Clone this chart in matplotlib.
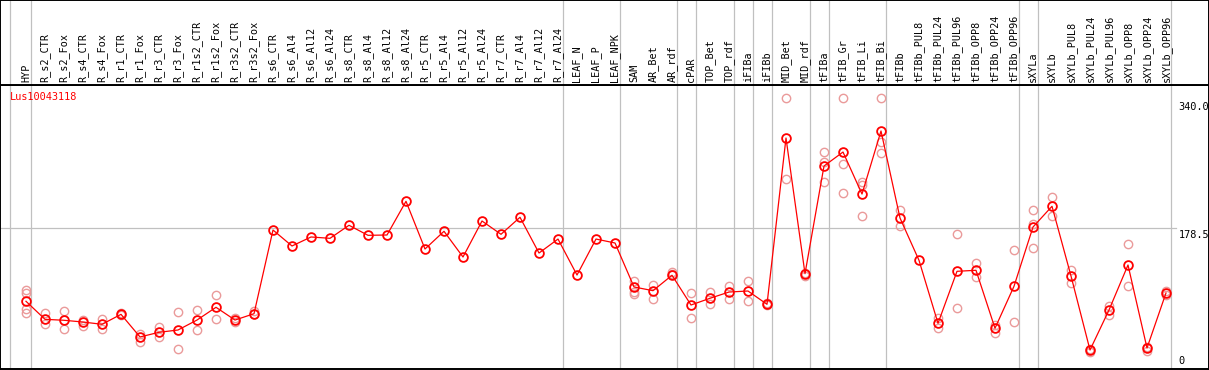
import matplotlib
matplotlib.use("Agg")
import matplotlib.pyplot as plt
from matplotlib.transforms import blended_transform_factory

labels = ["HYP", "R_s2_CTR", "R_s2_Fox", "R_s4_CTR", "R_s4_Fox", "R_r1_CTR", "R_r1_Fox",
          "R_r3_CTR", "R_r3_Fox", "R_r1s2_CTR", "R_r1s2_Fox", "R_r3s2_CTR", "R_r3s2_Fox",
          "R_s6_CTR", "R_s6_Al4", "R_s6_Al12", "R_s6_Al24", "R_s8_CTR", "R_s8_Al4",
          "R_s8_Al12", "R_s8_Al24", "R_r5_CTR", "R_r5_Al4", "R_r5_Al12", "R_r5_Al24",
          "R_r7_CTR", "R_r7_Al4", "R_r7_Al12", "R_r7_Al24", "LEAF_N", "LEAF_P", "LEAF_NPK",
          "SAM", "AR_Bet", "AR_rdf", "cPAR", "TOP_Bet", "TOP_rdf", "iFIBa", "iFIBb",
          "MID_Bet", "MID_rdf", "tFIBa", "tFIB_Gr", "tFIB_Li", "tFIB_Bi", "tFIBb",
          "tFIBb_PUL8", "tFIBb_PUL24", "tFIBb_PUL96", "tFIBb_OPP8", "tFIBb_OPP24",
          "tFIBb_OPP96", "sXYLa", "sXYLb", "sXYLb_PUL8", "sXYLb_PUL24", "sXYLb_PUL96",
          "sXYLb_OPP8", "sXYLb_OPP24", "sXYLb_OPP96"]

means = [85.6, 62.8, 61.6, 59.4, 56.5, 69.1, 40.5, 46.4, 49.3, 61.9, 78.0, 61.9, 69.9,
         175.7, 155.5, 166.9, 165.2, 181.7, 169.0, 169.4, 212.0, 151.7, 174.1, 141.6,
         187.1, 170.3, 191.8, 146.6, 164.3, 118.8, 164.3, 159.3, 103.7, 99.0, 118.5,
         80.9, 89.4, 97.3, 98.6, 81.8, 292.0, 120.5, 256.6, 274.3, 221.2, 300.9, 190.9,
         137.4, 57.8, 123.5, 124.8, 51.5, 104.6, 179.5, 205.7, 117.6, 24.0, 74.6, 131.5,
         26.5, 96.1]

replicates = [
    [99.9, 95.7, 75.5, 71.2], [70.4, 56.5], [73.3, 50.6], [61.9, 54.4], [62.8, 50.2],
    [71.2, 68.3], [43.9, 34.5], [52.7, 40.1], [71.7, 25.3], [74.6, 49.3], [93.6, 62.8],
    [64.9, 59.0], [73.3, 69.1],
    [], [], [], [], [], [], [], [], [], [], [], [], [], [], [], [], [], [], [],
    [110.9, 97.7, 94.4], [106.2, 88.9], [123.0, 119.7], [95.7, 64.1], [97.3, 82.6],
    [104.9, 88.9], [111.3, 86.0], [83.1, 80.9], [342.2, 240.2], [121.7, 117.6],
    [274.0, 261.3, 236.0], [342.2, 259.2, 222.1], [236.8, 232.6, 193.4],
    [342.2, 287.4, 272.7], [201.0, 180.4], [],
    [64.1, 52.2], [170.3, 77.5], [134.4, 115.9], [55.6, 45.9], [150.1, 59.0],
    [200.6, 183.7, 152.6], [217.4, 193.0], [124.8, 108.3], [24.9, 21.1], [79.6, 67.9],
    [158.0, 104.6], [27.8, 23.1], [98.6, 93.9]]

separators_after = [-1.07, 0, 28, 31, 34, 35, 37, 38, 39, 41, 42, 45, 52, 53, 60]
ytick_vals = [340.0, 178.5, 0]
ytick_text = ["340.0", "178.5", "0"]
gene = "Lus10043118"

W, H = 1209, 370
fig = plt.figure(figsize=(W / 100, H / 100), dpi=100)

x0_px, step_px = 26.0, 19.0
xlim = (-x0_px / step_px, (W - x0_px) / step_px)
top_px, bot_px = 85.0, 369.0
scale = 0.791
ymax = (bot_px - top_px) / scale

ax = fig.add_axes([0, (H - bot_px) / H, 1, (bot_px - top_px) / H])
hax = fig.add_axes([0, (H - top_px) / H, 1, top_px / H])
for a in (ax, hax):
    a.set_xlim(*xlim)
    a.set_xticks([])
    a.set_yticks([])
    for s in a.spines.values():
        s.set_color("black")
        s.set_linewidth(1.4)
ax.set_ylim(0, ymax)
hax.set_ylim(0, 1)

gray = "#c0c0c0"
for s in separators_after:
    for a in (ax, hax):
        a.axvline(s + 0.247, color=gray, lw=0.9, zorder=1)

ax.plot([xlim[0], (1176 - x0_px) / step_px], [178.5, 178.5], color=gray, lw=0.9, zorder=1)

mono = "DejaVu Sans Mono"
xs = list(range(len(labels)))
for i, lab in enumerate(labels):
    hax.text(i, 2.5 / top_px, lab, rotation=90, ha="center", va="bottom",
             fontsize=7.3, family=mono, color="black")

rx, ry = [], []
for i, reps in enumerate(replicates):
    for v in reps:
        rx.append(i)
        ry.append(v)
ax.plot(rx, ry, ls="none", marker="o", ms=6.0, mfc="none", mec="#ea9a9a", mew=1.0,
        zorder=2, clip_on=False)
ax.plot(xs, means, color="#ff0000", lw=0.9, zorder=3)
ax.plot(xs, means, ls="none", marker="o", ms=6.3, mfc="none", mec="#ff0000", mew=1.3,
        zorder=4)

ax.text((10 - x0_px) / step_px, ymax - 12 / scale, gene, color="#ff0000",
        fontsize=7.4, family=mono, ha="left", va="center")

tr = blended_transform_factory(fig.transFigure, ax.transData)
for v, t in zip(ytick_vals, ytick_text):
    if v == 0:
        ax.text(1178.5 / W, v + 3 / scale, t, transform=tr, ha="left", va="bottom",
                fontsize=7.4, family=mono)
    else:
        ax.text(1178.5 / W, v - 2 / scale, t, transform=tr, ha="left", va="top",
                fontsize=7.4, family=mono)

fig.savefig("out.png", dpi=100)
